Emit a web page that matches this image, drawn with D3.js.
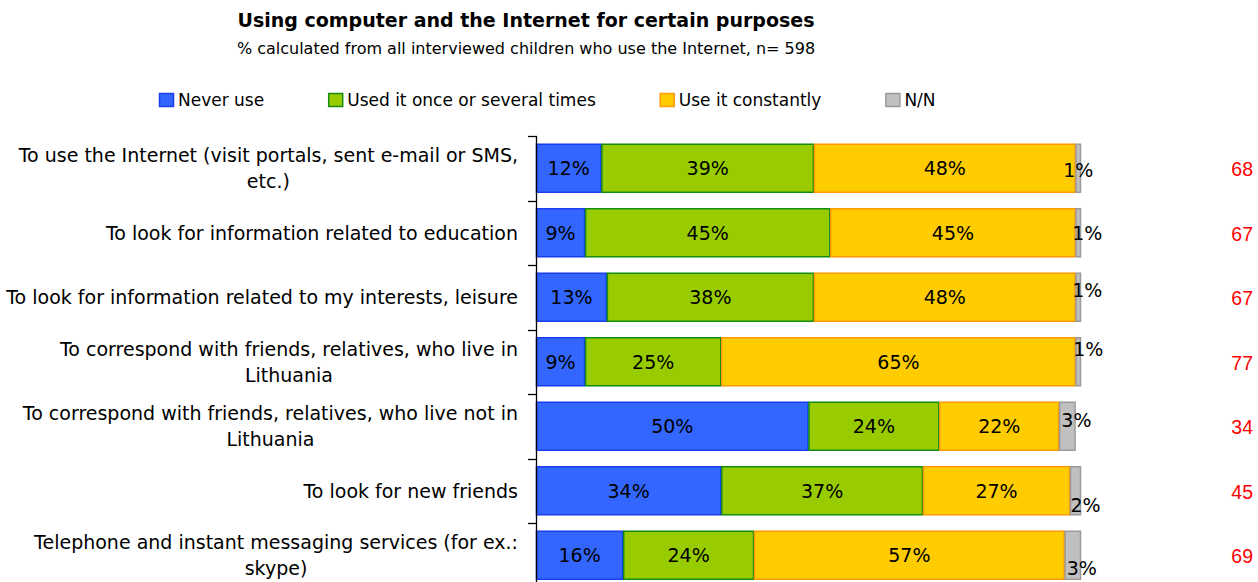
<!DOCTYPE html>
<html>
<head>
<meta charset="utf-8">
<script src="https://cdn.jsdelivr.net/npm/d3@7"></script>
<style>
  html, body { margin: 0; padding: 0; background: #fff; }
  svg { display: block; }
  text { font-family: "DejaVu Sans", Verdana, sans-serif; fill: #000; }
</style>
</head>
<body>
<svg id="chart" width="1258" height="582"></svg>
<script>
// ---- data ----
const title = "Using computer and the Internet for certain purposes";
const subtitle = "% calculated from all interviewed children who use the Internet, n= 598";

const categories = [
  "To use the Internet (visit portals, sent e-mail or SMS,\netc.)",
  "To look for information related to education",
  "To look for information related to my interests, leisure",
  "To correspond with friends, relatives, who live in\nLithuania",
  "To correspond with friends, relatives, who live not in\nLithuania",
  "To look for new friends",
  "Telephone and instant messaging services (for ex.:\nskype)"
];
const seriesNames = ["Never use", "Used it once or several times", "Use it constantly", "N/N"];
const neverUse      = [12,  9, 13,  9, 50, 34, 16];
const usedOnce      = [39, 45, 38, 25, 24, 37, 24];
const useConstantly = [48, 45, 48, 65, 22, 27, 57];
const noAnswer      = [ 1,  1,  1,  1,  3,  2,  3];
const respondents   = [68, 67, 67, 77, 34, 45, 69];

// ---- styling ----
const fills   = ["#3366FF", "#99CC00", "#FFCC00", "#C0C0C0"];
const strokes = ["#1A3DF0", "#128C12", "#FF9900", "#9A9A9A"];
// hand-placed nudges (px) for the small N/N labels so they clear the bar ends
const nnLabelDx = [0, 9, 9, 10, 9, 10, 9];
const nnLabelDy = [2, 0, -7, -13, -6, 14, 13];

const svg = d3.select("#chart");

// rows for stacking
const rows = categories.map((c, i) => ({
  cat: c,
  [seriesNames[0]]: neverUse[i],
  [seriesNames[1]]: usedOnce[i],
  [seriesNames[2]]: useConstantly[i],
  [seriesNames[3]]: noAnswer[i]
}));
const stacked = d3.stack().keys(seriesNames)(rows);

// ---- scales ----
const x = d3.scaleLinear().domain([0, 100]).range([536, 1081]);
const y = d3.scaleBand().domain(categories)
  .range([136, 136 + 7 * 64.5]).paddingInner(0.24).paddingOuter(0.12);

// ---- title ----
svg.append("text").attr("x", 526).attr("y", 27).attr("text-anchor", "middle")
  .style("font-weight", "bold").style("font-size", "19px").text(title);
svg.append("text").attr("x", 526).attr("y", 54).attr("text-anchor", "middle")
  .style("font-size", "16px").text(subtitle);

// ---- legend ----
const legend = svg.append("g");
let lx = 159;
seriesNames.forEach((name, i) => {
  legend.append("rect").attr("x", lx + 0.5).attr("y", 93.5).attr("width", 14).attr("height", 13)
    .attr("fill", fills[i]).attr("stroke", strokes[i]).attr("stroke-width", 1.5);
  const t = legend.append("text").attr("x", lx + 19).attr("y", 106)
    .style("font-size", "17px").text(name);
  lx = lx + 19 + t.node().getComputedTextLength() + 64;
});

// ---- bars ----
const layers = svg.append("g").selectAll("g").data(stacked).join("g");
layers.each(function (layer, si) {
  d3.select(this).selectAll("rect").data(layer).join("rect")
    .attr("x", d => x(d[0]) + 0.5)
    .attr("y", d => y(d.data.cat) + 0.5)
    .attr("width", d => Math.max(0, x(d[1]) - x(d[0]) - 1))
    .attr("height", y.bandwidth() - 1)
    .attr("fill", fills[si])
    .attr("stroke", strokes[si])
    .attr("stroke-width", 1.5);
});

// ---- value labels ----
stacked.forEach((layer, si) => {
  svg.append("g").selectAll("text").data(layer).join("text")
    .attr("x", (d, i) => (x(d[0]) + x(d[1])) / 2 + (si === 3 ? nnLabelDx[i] : 0))
    .attr("y", (d, i) => y(d.data.cat) + y.bandwidth() / 2 + 7 + (si === 3 ? nnLabelDy[i] : 0))
    .attr("text-anchor", "middle")
    .style("font-size", "19px")
    .text(d => (d[1] - d[0]) + "%");
});

// ---- category axis ----
const axis = svg.append("g");
axis.append("line").attr("x1", 536.5).attr("x2", 536.5).attr("y1", 136).attr("y2", 600)
  .attr("stroke", "#000").attr("stroke-width", 1.3);
const bounds = categories.map(c => y(c) - y.step() * y.paddingInner() / 2);
axis.selectAll("line.tick").data(bounds).join("line").attr("class", "tick")
  .attr("x1", 528).attr("x2", 537).attr("y1", d => Math.round(d) + 0.5).attr("y2", d => Math.round(d) + 0.5)
  .attr("stroke", "#000").attr("stroke-width", 1.3);

// category labels, wrapped at the marked breaks; continuation lines are
// centred under the first line
const labels = svg.append("g");
categories.forEach(c => {
  const lines = c.split("\n");
  const cy = y(c) + y.bandwidth() / 2;
  const lh = 26;
  let firstW = 0;
  lines.forEach((ln, k) => {
    const ty = cy + 7 + (k - (lines.length - 1) / 2) * lh;
    const t = labels.append("text").attr("y", ty).style("font-size", "19px").text(ln);
    if (k === 0) {
      firstW = t.node().getComputedTextLength();
      t.attr("x", 518).attr("text-anchor", "end");
    } else {
      t.attr("x", 518 - firstW / 2).attr("text-anchor", "middle");
    }
  });
});

// ---- respondent counts, right column ----
svg.append("g").selectAll("text").data(respondents).join("text")
  .attr("x", 1253)
  .attr("y", (d, i) => y(categories[i]) + y.bandwidth() / 2 + 8)
  .attr("text-anchor", "end")
  .style("font-family", "'Liberation Sans', Arial, sans-serif")
  .style("font-size", "19.5px")
  .style("fill", "#FF0000")
  .text(d => d);
</script>
</body>
</html>
